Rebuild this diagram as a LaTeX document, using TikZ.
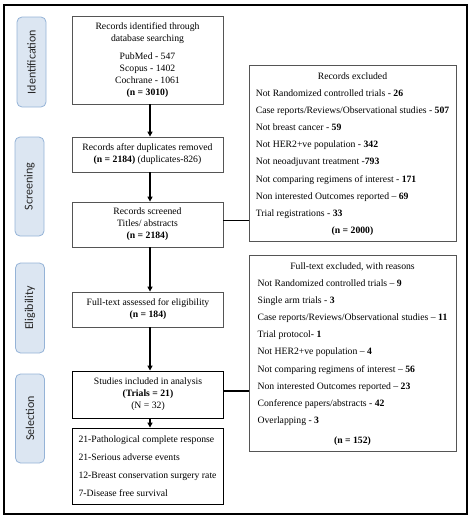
\documentclass[tikz,border=0pt]{standalone}
\usepackage{fontspec}
\setmainfont{Liberation Serif}
\newfontfamily\tabfont{Carlito}
\usetikzlibrary{arrows.meta}
\definecolor{tabfill}{HTML}{DCE6F2}
\definecolor{tabdraw}{HTML}{95B3D7}
\definecolor{boxdraw}{HTML}{555555}
\begin{document}
\begin{tikzpicture}[x=1pt,y=-1pt,
  tabbox/.style={draw=tabdraw,fill=tabfill,rounded corners=5pt,line width=0.8pt,
    minimum width=29pt,inner sep=0pt,font=\tabfont\fontsize{12}{14}\selectfont,text=black!85},
  flowbox/.style={draw=boxdraw,line width=0.8pt,minimum width=151pt,inner sep=2pt,
    align=center,font=\fontsize{9.7}{12}\selectfont},
  exbox/.style={draw=boxdraw,line width=0.8pt,minimum width=207pt,inner sep=0pt,
    font=\fontsize{9.7}{17.1}\selectfont},
  conn/.style={line width=1.3pt,black},
  arr/.style={conn,-{Triangle[length=5pt,width=5pt]}}]
\useasboundingbox (0,0) rectangle (474,522);
\draw[line width=1.2pt] (4,5) rectangle (467,514);

% phase tabs
\node[tabbox,minimum height=90pt] (t1) at (31.5,62) {\rotatebox{90}{Identification}};
\node[tabbox,minimum height=99pt] (t2) at (29.5,186.5) {\rotatebox{90}{Screening}};
\node[tabbox,minimum height=90pt] (t3) at (30,308) {\rotatebox{90}{Eligibility}};
\node[tabbox,minimum height=89pt] (t4) at (30,418.5) {\rotatebox{90}{Selection}};

% main flow
\node[flowbox,minimum height=88pt] (b1) at (147.5,60)
  {Records identified through\\database searching\\[6pt]PubMed - 547\\Scopus - 1402\\Cochrane - 1061\\\textbf{(n = 3010)}};
\node[flowbox,minimum height=35pt] (b2) at (147.5,154.5)
  {Records after duplicates removed\\\textbf{(n = 2184)} (duplicates-826)};
\node[flowbox,minimum height=45pt] (b3) at (147.5,224.5)
  {Records screened\\Titles/ abstracts\\\textbf{(n = 2184)}};
\node[flowbox,minimum height=35pt] (b4) at (148,309.5)
  {Full-text assessed for eligibility\\\textbf{(n = 184)}};
\node[flowbox,draw=black,line width=0.9pt,minimum height=47pt] (b5) at (148,394.5)
  {Studies included in analysis\\\textbf{(Trials = 21)}\\(N = 32)};
\node[flowbox,draw=black,line width=0.9pt,minimum height=76pt,inner sep=0pt,
  font=\fontsize{9.7}{17.7}\selectfont] (b6) at (147.5,466)
  {\begin{tabular}{@{}l@{}}
   21-Pathological complete response\\
   21-Serious adverse events\\
   12-Breast conservation surgery rate\\
   7-Disease free survival
   \end{tabular}};

% exclusion boxes
\node[exbox,minimum height=176pt] (e1) at (352.5,153)
  {\begin{tabular}{@{}l@{}}
   \multicolumn{1}{@{}c@{}}{Records excluded}\\
   Not Randomized controlled trials - \textbf{26}\\
   Case reports/Reviews/Observational studies - \textbf{507}\\
   Not breast cancer - \textbf{59}\\
   Not HER2+ve population - \textbf{342}\\
   Not neoadjuvant treatment -\textbf{793}\\
   Not comparing regimens of interest - \textbf{171}\\
   Non interested Outcomes reported -- \textbf{69}\\
   Trial registrations - \textbf{33}\\
   \multicolumn{1}{@{}c@{}}{\textbf{(n = 2000)}}
   \end{tabular}};
\node[exbox,minimum height=196pt] (e2) at (352.5,353)
  {\begin{tabular}{@{}l@{}}
   \multicolumn{1}{@{}c@{}}{Full-text excluded, with reasons}\\
   Not Randomized controlled trials -- \textbf{9}\\
   Single arm trials - \textbf{3}\\
   Case reports/Reviews/Observational studies -- \textbf{11}\\
   Trial protocol- \textbf{1}\\
   Not HER2+ve population -- \textbf{4}\\
   Not comparing regimens of interest -- \textbf{56}\\
   Non interested Outcomes reported -- \textbf{23}\\
   Conference papers/abstracts - \textbf{42}\\
   Overlapping - \textbf{3}\\[3pt]
   \multicolumn{1}{@{}c@{}}{\textbf{(n = 152)}}
   \end{tabular}};

% connectors
\draw[arr] ([xshift=2.5pt]b1.south) -- ([xshift=2.5pt]b1.south |- b2.north);
\draw[arr] ([xshift=2.5pt]b2.south) -- ([xshift=2.5pt]b2.south |- b3.north);
\draw[arr] ([xshift=2.5pt]b3.south) -- ([xshift=2pt]b4.north);
\draw[arr] ([xshift=2pt]b4.south) -- ([xshift=2pt]b5.north);
\draw[arr] ([xshift=2pt]b5.south) -- ([xshift=2.5pt]b6.north);
\draw[conn] ([yshift=4pt]b3.east) -- ([yshift=4pt]b3.east -| e1.west);
\draw[conn] ([yshift=3.5pt]b5.east) -- ([yshift=3.5pt]b5.east -| e2.west);
\end{tikzpicture}
\end{document}
